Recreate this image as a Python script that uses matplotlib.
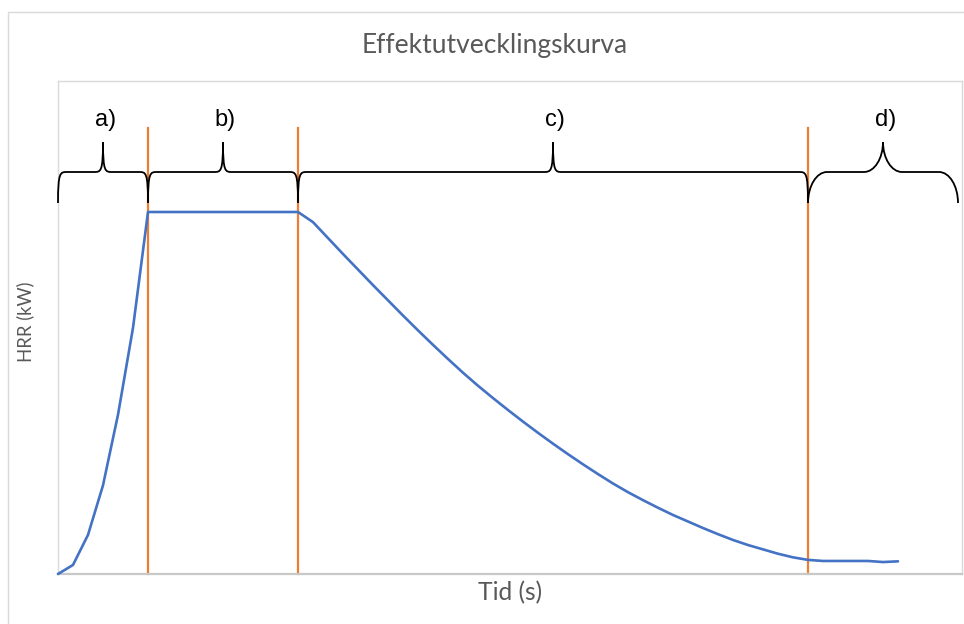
import matplotlib
matplotlib.use("Agg")
import matplotlib.pyplot as plt
from matplotlib.path import Path
from matplotlib.patches import PathPatch, Rectangle

# ---------------- data ----------------
time_s = [0, 1, 2, 3, 4, 5, 6,
          16, 17, 18, 19, 20, 21, 22, 23, 24, 25, 26, 27, 28, 29, 30,
          31, 32, 33, 34, 35, 36, 37, 38, 39, 40, 41, 42, 43, 44, 45,
          46, 47, 48, 49, 50, 51, 52, 53, 54, 55, 56]
hrr_kw = [0, 2.5, 10.8, 24.5, 44, 68, 100,
          100, 97.2, 92.8, 88.4, 84.1, 79.8, 75.6, 71.4, 67.3, 63.3, 59.4, 55.6, 52.0, 48.6, 45.3,
          42.1, 39.0, 36.0, 33.1, 30.3, 27.6, 25.0, 22.6, 20.4, 18.3, 16.3, 14.5, 12.7, 11.0, 9.4,
          8.0, 6.8, 5.6, 4.6, 3.9, 3.6, 3.6, 3.6, 3.6, 3.3, 3.5]
phase_bounds = [0, 6, 16, 50, 60]
phase_labels = ["a)", "b)", "c)", "d)"]
title_text = "Effektutvecklingskurva"
xlabel_text = "Tid (s)"
ylabel_text = "HRR (kW)"

# ---------------- figure ----------------
W, H = 964, 624
fig = plt.figure(figsize=(W / 100, H / 100), dpi=100)
fig.patch.set_facecolor("white")

ax_l, ax_r, ax_t, ax_b = 58, 962, 81, 574
ax = fig.add_axes([ax_l / W, (H - ax_b) / H, (ax_r - ax_l) / W, (ax_b - ax_t) / H])
x_max = (ax_r - ax_l) / 15.0
y_max = (ax_b - ax_t) / 3.62
ax.set_xlim(0, x_max)
ax.set_ylim(0, y_max)
ax.set_xticks([])
ax.set_yticks([])
for s in ["top", "right", "left"]:
    ax.spines[s].set_color("#D9D9D9")
    ax.spines[s].set_linewidth(1.0)
ax.spines["bottom"].set_color("#C8C8C8")
ax.spines["bottom"].set_linewidth(1.6)

# outer chart border
fig.add_artist(Rectangle((8 / W, -0.2), 1.0, (H - 12) / H + 0.2,
                         transform=fig.transFigure, fill=False,
                         edgecolor="#D9D9D9", linewidth=1.0))

# curve
ax.plot(time_s, hrr_kw, color="#4472C4", linewidth=1.9, solid_joinstyle="round",
        solid_capstyle="round", zorder=3, clip_on=False)

# orange phase boundaries
line_top = (ax_b - 128) / 3.62
for xb in phase_bounds[1:-1]:
    ax.plot([xb, xb], [0, line_top], color="#ED7D31", linewidth=1.6, zorder=2, clip_on=False)

# braces
y_bot = (ax_b - 203) / 3.62
y_mid = (ax_b - 172) / 3.62
y_tip = (ax_b - 142) / 3.62
label_y = (ax_b - 120) / 3.62


def brace(x0, x1, r_px, rounded):
    r = r_px / 15.0
    xt = (x0 + x1) / 2.0
    h = y_mid - y_bot
    ht = y_tip - y_mid
    if rounded:
        a, b = 0.55, 0.45
    else:
        a, b = 1.0, 0.25
    verts = [
        (x0, y_bot),
        (x0, y_bot + a * h), (x0 + b * r, y_mid), (x0 + r, y_mid),
        (xt - r, y_mid),
        (xt - b * r, y_mid), (xt, y_tip - a * ht), (xt, y_tip),
        (xt, y_tip - a * ht), (xt + b * r, y_mid), (xt + r, y_mid),
        (x1 - r, y_mid),
        (x1 - b * r, y_mid), (x1, y_bot + a * h), (x1, y_bot),
    ]
    codes = [Path.MOVETO,
             Path.CURVE4, Path.CURVE4, Path.CURVE4,
             Path.LINETO,
             Path.CURVE4, Path.CURVE4, Path.CURVE4,
             Path.CURVE4, Path.CURVE4, Path.CURVE4,
             Path.LINETO,
             Path.CURVE4, Path.CURVE4, Path.CURVE4]
    ax.add_patch(PathPatch(Path(verts, codes), facecolor="none", edgecolor="black",
                           linewidth=1.3, clip_on=False, zorder=4))
    return xt


radii = [9, 9, 9, 19]
rounded_flags = [False, False, False, True]
for i, lab in enumerate(phase_labels):
    x0, x1 = phase_bounds[i], phase_bounds[i + 1]
    xt = brace(x0, x1, radii[i], rounded_flags[i])
    ax.text(xt + 0.15, label_y, lab, ha="center", va="center",
            fontsize=17, family="Liberation Sans", color="black")

# texts
t_title = fig.text(495 / W, 1 - 45 / H, title_text, ha="center", va="center",
                   fontsize=16, family="Lato", color="#595959")
t_x = fig.text(510 / W, 1 - 593 / H, xlabel_text, ha="center", va="center",
               fontsize=12, family="Lato", color="#595959")
t_y = fig.text(25 / W, 1 - 322 / H, ylabel_text, ha="center", va="center",
               rotation=90, fontsize=12, family="Lato", color="#595959")

# fit text sizes to the reference widths
fig.canvas.draw()
r = fig.canvas.get_renderer()
for t, target, horiz in [(t_title, 266, True), (t_x, 64, True), (t_y, 80, False)]:
    bb = t.get_window_extent(r)
    cur = bb.width if horiz else bb.height
    t.set_fontsize(t.get_fontsize() * target / cur)

fig.savefig("out.png", dpi=100)
